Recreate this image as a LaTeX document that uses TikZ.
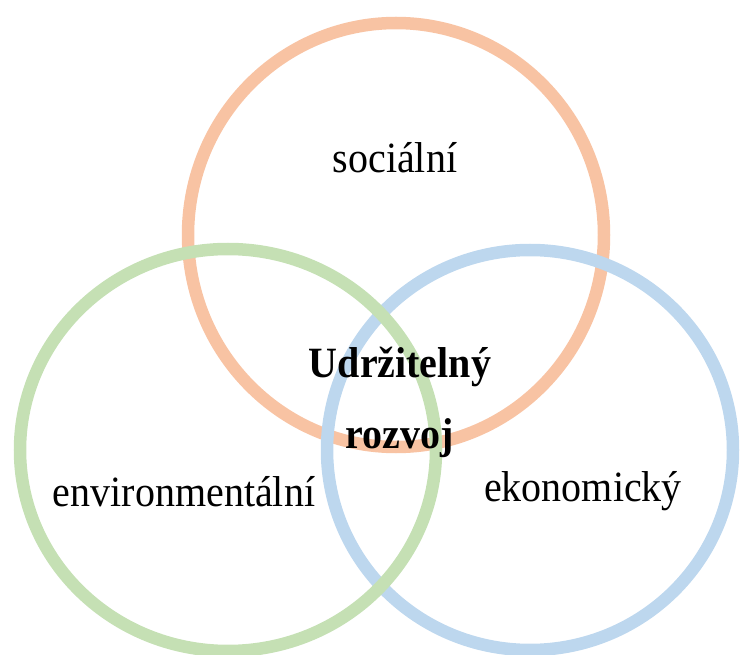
\documentclass[tikz,border=0pt]{standalone}
\usepackage{fontspec}
\usepackage{graphicx}
\setmainfont{Liberation Serif}
\definecolor{socc}{HTML}{F8C3A3}
\definecolor{envc}{HTML}{C5E0B4}
\definecolor{ekoc}{HTML}{BDD7EE}
\newcommand{\tallish}[1]{\scalebox{1}[1.08]{#1}}
\tikzset{
  ring/.style={line width=12.5pt},
  lbl/.style={anchor=base, inner sep=0pt, font=\fontsize{40}{48}\selectfont},
  core/.style={anchor=base, inner sep=0pt, font=\fontsize{40}{48}\selectfont\bfseries}
}
\begin{document}
\begin{tikzpicture}[x=1pt,y=-1pt]
\useasboundingbox (0,0) rectangle (740,655);
\begin{scope}
\clip (0,0) rectangle (740,655);
\draw[ring, socc] (396,235) ellipse [x radius=208, y radius=212];
\draw[ring, ekoc] (530,450) ellipse [x radius=203, y radius=200];
\draw[ring, envc] (228,450) ellipse [x radius=208, y radius=201];
\end{scope}
\node[lbl] (soc) at (395,173) {\tallish{sociální}};
\node[lbl] (env) at (184,507) {\tallish{environmentální}};
\node[lbl] (eko) at (583,501) {\tallish{ekonomický}};
\node[core] (ud) at (400,378) {\tallish{Udržitelný}};
\node[core] (roz) at (400,449) {\tallish{rozvoj}};
\end{tikzpicture}
\end{document}
